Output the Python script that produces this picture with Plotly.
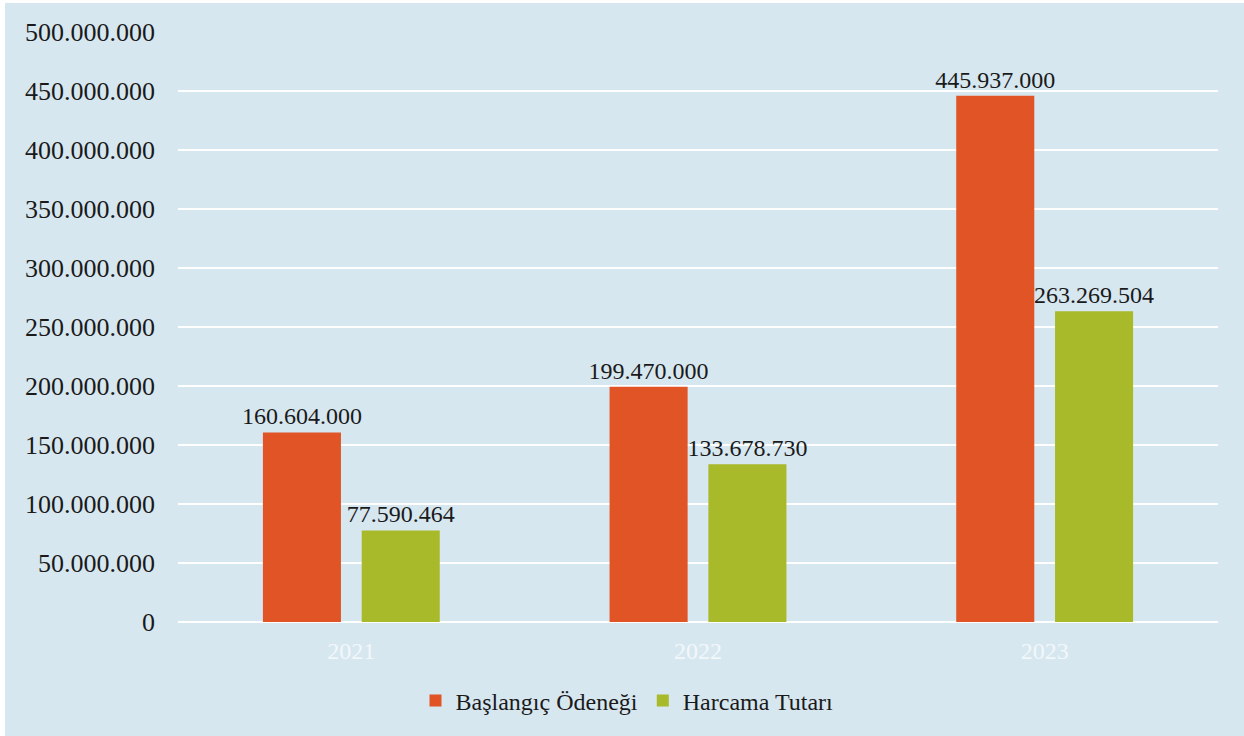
import plotly.graph_objects as go

years = ["2021", "2022", "2023"]
baslangic = [160604000, 199470000, 445937000]
harcama = [77590464, 133678730, 263269504]
tick_vals = [0, 50e6, 100e6, 150e6, 200e6, 250e6, 300e6, 350e6, 400e6, 450e6, 500e6]
tick_text = ["0", "50.000.000", "100.000.000", "150.000.000", "200.000.000", "250.000.000",
             "300.000.000", "350.000.000", "400.000.000", "450.000.000", "500.000.000"]

def fmt(v):
    return f"{v:,}".replace(",", ".")

FONT = "Liberation Serif, Times New Roman, serif"
BG = "#D7E7F0"
OX, OY = 5, 3  # page offset of the figure

fig = go.Figure()
fig.add_trace(go.Bar(x=years, y=baslangic, name="Başlangıç Ödeneği",
                     marker=dict(color="#E05426", line=dict(width=0)),
                     text=[fmt(v) for v in baslangic], textposition="outside",
                     constraintext="none",
                     textfont=dict(family=FONT, size=24, color="#1a1a1a"), cliponaxis=False))
fig.add_trace(go.Bar(x=years, y=harcama, name="Harcama Tutarı",
                     marker=dict(color="#A8B929", line=dict(width=0)),
                     text=[fmt(v) for v in harcama], textposition="outside",
                     constraintext="none",
                     textfont=dict(family=FONT, size=24, color="#1a1a1a"), cliponaxis=False))

W, H = 1244 - OX, 736 - OY
L, R, T, B = 178 - OX, 26, 32 - OY, 114
pw, ph = W - L - R, H - T - B

fig.update_layout(
    width=W, height=H,
    margin=dict(l=L, r=R, t=T, b=B, pad=0),
    paper_bgcolor=BG, plot_bgcolor=BG,
    barmode="group", bargap=0.43, bargroupgap=0.21,
    font=dict(family=FONT, size=24, color="#1a1a1a"),
    showlegend=True,
    legend=dict(orientation="h", x=(627 - 178) / pw, xanchor="center",
                y=(622 - 701) / ph, yanchor="middle",
                font=dict(family=FONT, size=24, color="#1a1a1a"),
                bgcolor="rgba(0,0,0,0)", itemwidth=30, traceorder="normal"),
    xaxis=dict(showgrid=False, showline=False, ticks="",
               tickfont=dict(family=FONT, size=24, color="#F2F7FA"), ticklabelstandoff=12),
    yaxis=dict(range=[0, 500e6], tickvals=tick_vals, ticktext=tick_text,
               showgrid=True, gridcolor="#FFFFFF", gridwidth=2, zeroline=True,
               zerolinecolor="#FFFFFF", zerolinewidth=2, showline=False, ticks="",
               tickfont=dict(family=FONT, size=26, color="#1a1a1a"), ticklabelstandoff=22),
)

fig.write_html("out.html",
               post_script="document.body.style.margin='%dpx 0 0 %dpx';document.body.style.background='#FFFFFF';" % (OY, OX))
